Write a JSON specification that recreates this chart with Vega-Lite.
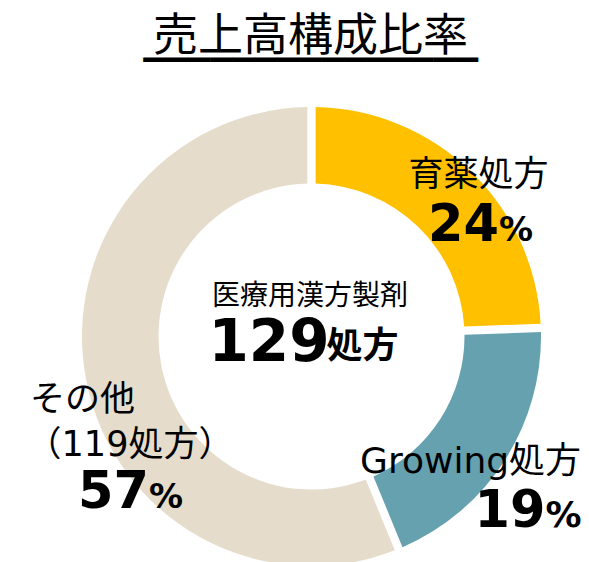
{
  "$schema": "https://vega.github.io/schema/vega-lite/v6.json",
  "width": 555,
  "height": 451,
  "autosize": {"type": "none"},
  "padding": {"left": 34, "top": 111, "right": 0, "bottom": 0},
  "background": "#ffffff",
  "config": {"view": {"stroke": null}, "text": {"color": "#000000", "baseline": "alphabetic"}},
  "datasets": {
    "share": [
      {"id": 1, "category": "育薬処方", "value": 24.4, "pct": "24", "note": ""},
      {"id": 2, "category": "Growing処方", "value": 19.4, "pct": "19", "note": ""},
      {"id": 3, "category": "その他", "value": 56.2, "pct": "57", "note": "（119処方）"}
    ],
    "center": [
      {"title": "売上高構成比率", "caption": "医療用漢方製剤", "count": "129", "unit": "処方"}
    ]
  },
  "layer": [
    {
      "data": {"name": "share"},
      "mark": {"type": "arc", "radius": 229.5, "innerRadius": 153, "padAngle": 0.03},
      "encoding": {
        "theta": {"field": "value", "type": "quantitative", "stack": true},
        "order": {"field": "id", "type": "quantitative"},
        "color": {
          "field": "category", "type": "nominal",
          "scale": {"domain": ["育薬処方", "Growing処方", "その他"], "range": ["#FFC000", "#66A1AF", "#E5DCCB"]},
          "legend": null
        }
      }
    },
    {
      "data": {"name": "center"},
      "mark": {"type": "text", "font": "Noto Sans CJK JP", "fontSize": 45, "align": "center", "dx": -1, "dy": -286},
      "encoding": {"text": {"field": "title"}}
    },
    {
      "data": {"name": "center"},
      "mark": {"type": "text", "font": "DejaVu Sans", "fontSize": 29, "align": "center", "dx": -1, "dy": -282, "text": "▁▁▁▁▁▁▁▁▁▁▁▁▁▁▁"},
      "encoding": {}
    },
    {
      "data": {"name": "center"},
      "mark": {"type": "text", "font": "Noto Sans CJK JP", "fontSize": 28, "align": "center", "dx": -1.5, "dy": -32},
      "encoding": {"text": {"field": "caption"}}
    },
    {
      "data": {"name": "center"},
      "mark": {"type": "text", "font": "DejaVu Sans", "fontWeight": "bold", "fontSize": 58, "align": "right", "dx": 18, "dy": 24},
      "encoding": {"text": {"field": "count"}}
    },
    {
      "data": {"name": "center"},
      "mark": {"type": "text", "font": "Noto Sans CJK JP", "fontWeight": "bold", "fontSize": 36, "align": "left", "dx": 15, "dy": 21},
      "encoding": {"text": {"field": "unit"}}
    },
    {
      "data": {"name": "share"},
      "transform": [{"filter": "datum.id == 1"}],
      "mark": {"type": "text", "font": "Noto Sans CJK JP", "fontSize": 35, "align": "center", "dx": 167, "dy": -151},
      "encoding": {"text": {"field": "category"}}
    },
    {
      "data": {"name": "share"},
      "transform": [{"filter": "datum.id == 1"}],
      "mark": {"type": "text", "font": "DejaVu Sans", "fontWeight": "bold", "fontSize": 51, "align": "right", "dx": 187.5, "dy": -95.5},
      "encoding": {"text": {"field": "pct"}}
    },
    {
      "data": {"name": "share"},
      "transform": [{"filter": "datum.id == 1"}],
      "mark": {"type": "text", "font": "DejaVu Sans", "fontWeight": "bold", "fontSize": 34, "align": "left", "dx": 187.5, "dy": -95.5, "text": "%"},
      "encoding": {}
    },
    {
      "data": {"name": "share"},
      "transform": [{"filter": "datum.id == 2"}],
      "mark": {"type": "text", "font": "DejaVu Sans, Noto Sans CJK JP", "fontSize": 36, "align": "left", "dx": 48.5, "dy": 136.5},
      "encoding": {"text": {"field": "category"}}
    },
    {
      "data": {"name": "share"},
      "transform": [{"filter": "datum.id == 2"}],
      "mark": {"type": "text", "font": "DejaVu Sans", "fontWeight": "bold", "fontSize": 51, "align": "right", "dx": 234, "dy": 190.5},
      "encoding": {"text": {"field": "pct"}}
    },
    {
      "data": {"name": "share"},
      "transform": [{"filter": "datum.id == 2"}],
      "mark": {"type": "text", "font": "DejaVu Sans", "fontWeight": "bold", "fontSize": 36, "align": "left", "dx": 234, "dy": 190.5, "text": "%"},
      "encoding": {}
    },
    {
      "data": {"name": "share"},
      "transform": [{"filter": "datum.id == 3"}],
      "mark": {"type": "text", "font": "Noto Sans CJK JP", "fontSize": 35, "align": "left", "dx": -281.5, "dy": 74.5},
      "encoding": {"text": {"field": "category"}}
    },
    {
      "data": {"name": "share"},
      "transform": [{"filter": "datum.id == 3"}],
      "mark": {"type": "text", "font": "DejaVu Sans, Noto Sans CJK JP", "fontSize": 35, "align": "center", "dx": -181.5, "dy": 119},
      "encoding": {"text": {"field": "note"}}
    },
    {
      "data": {"name": "share"},
      "transform": [{"filter": "datum.id == 3"}],
      "mark": {"type": "text", "font": "DejaVu Sans", "fontWeight": "bold", "fontSize": 51, "align": "right", "dx": -162.5, "dy": 171.5},
      "encoding": {"text": {"field": "pct"}}
    },
    {
      "data": {"name": "share"},
      "transform": [{"filter": "datum.id == 3"}],
      "mark": {"type": "text", "font": "DejaVu Sans", "fontWeight": "bold", "fontSize": 34, "align": "left", "dx": -162.5, "dy": 171.5, "text": "%"},
      "encoding": {}
    }
  ]
}
